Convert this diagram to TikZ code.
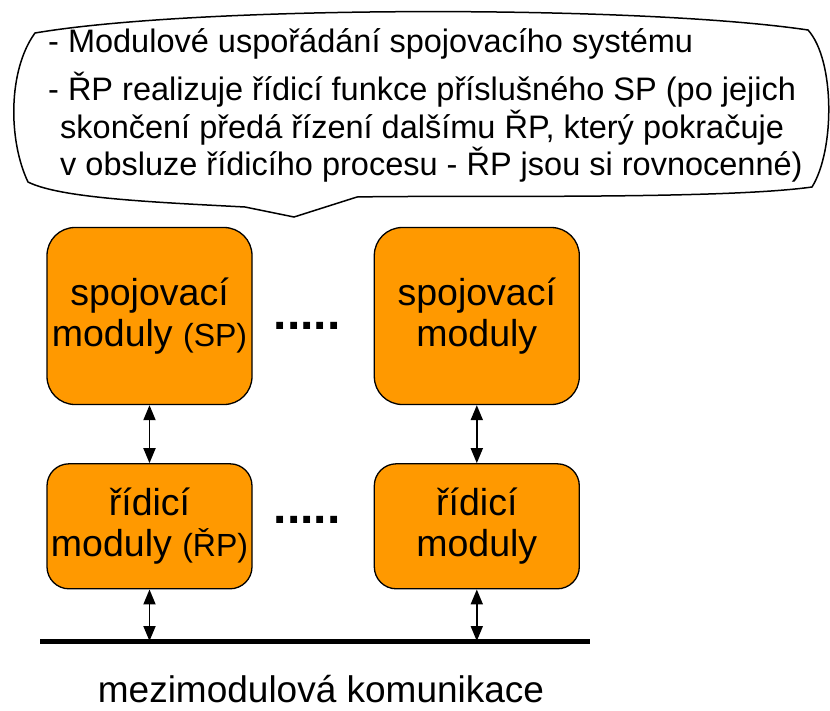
\documentclass[tikz,border=0pt]{standalone}
\usepackage{fontspec}
\setmainfont{Liberation Sans}
\usetikzlibrary{arrows.meta,positioning}
\definecolor{modorange}{HTML}{FF9900}

\begin{document}
\begin{tikzpicture}[x=1pt, y=-1pt,
    modul/.style={draw, fill=modorange, line width=1.3pt, minimum width=205pt,
        align=center, inner sep=0pt, font=\fontsize{37.5}{41}\selectfont},
    topbox/.style={modul, minimum height=177pt, rounded corners=28pt},
    lowbox/.style={modul, minimum height=125pt, rounded corners=22pt},
    note/.style={anchor=base west, inner sep=0pt, font=\fontsize{32.5}{37}\selectfont},
    dots/.style={anchor=base, inner sep=0pt, font=\bfseries\fontsize{48}{48}\selectfont},
    arrow/.style={<->, >={Triangle[length=15pt,width=12pt]}, line width=1.8pt}
]
\useasboundingbox (0,0) rectangle (830,710);

% bublina s popisem
\draw[line width=1.5pt] (35,33) .. controls (200,5) and (640,5) .. (808,30)
    .. controls (835,60) and (835,150) .. (812,187)
    .. controls (720,200) and (450,195) .. (357,197) -- (294,217) -- (245,207)
    .. controls (150,202) and (60,198) .. (28,182)
    .. controls (8,140) and (8,70) .. cycle;
\node[note] (n1) at (48,52) {- Modulové uspořádání spojovacího systému};
\node[note] (n2) at (48,100) {- ŘP realizuje řídicí funkce příslušného SP (po jejich};
\node[note] (n3) at (60,138) {skončení předá řízení dalšímu ŘP, který pokračuje};
\node[note] (n4) at (60,175) {v obsluze řídicího procesu - ŘP jsou si rovnocenné)};

% moduly
\node[topbox] (sp1) at (149.5,316) {spojovací\\moduly {\fontsize{32}{41}\selectfont(SP)}};
\node[topbox, right=121pt of sp1] (sp2) {spojovací\\moduly};
\node[lowbox, below=58pt of sp1] (rp1) {řídicí\\moduly {\fontsize{32}{41}\selectfont(ŘP)}};
\node[lowbox, below=58pt of sp2] (rp2) {řídicí\\moduly};

\node[dots] (d1) at (307,329) {.....};
\node[dots] (d2) at (307,523) {.....};

% sbernice
\draw[line width=5pt] (40,641) coordinate (busL) -- (590,641) coordinate (busR);
\node[anchor=base, inner sep=0pt, font=\fontsize{37}{40}\selectfont] (label) at (321,702) {mezimodulová komunikace};

\draw[arrow] (sp1) -- (rp1);
\draw[arrow] (sp2) -- (rp2);
\draw[arrow] (rp1) -- (rp1 |- busL);
\draw[arrow] (rp2) -- (rp2 |- busL);
\end{tikzpicture}
\end{document}
